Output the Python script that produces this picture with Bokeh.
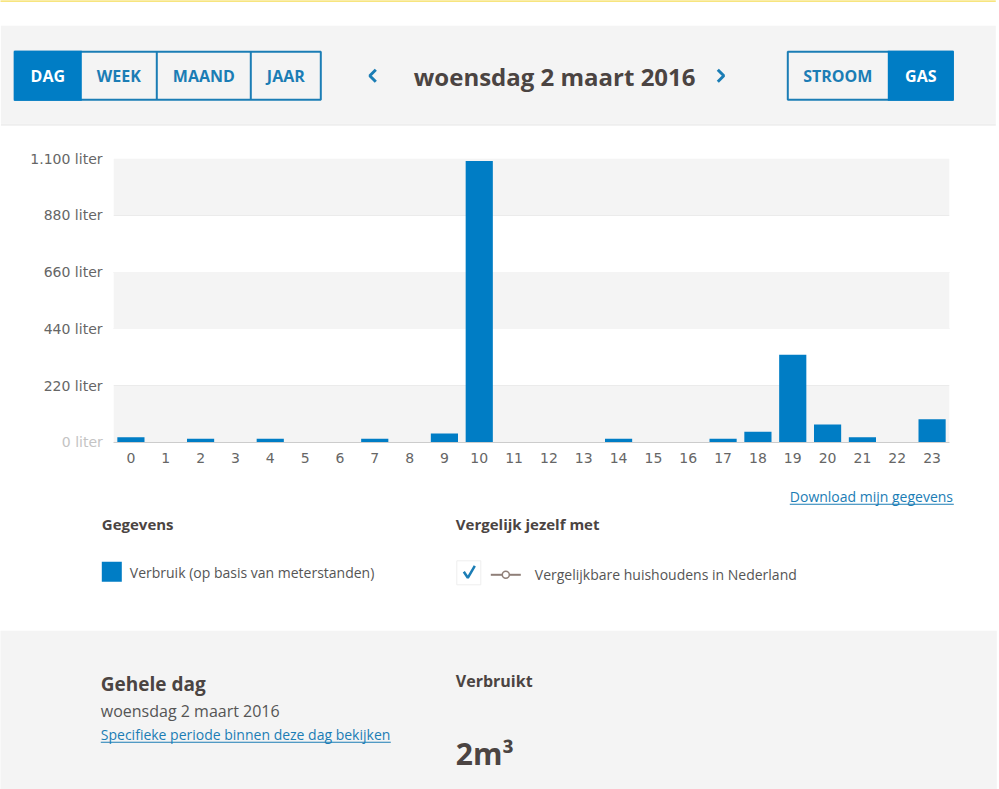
from bokeh.core.properties import value
from bokeh.embed import file_html
from bokeh.layouts import column
from bokeh.models import BoxAnnotation, FactorRange, FixedTicker, Range1d
from bokeh.plotting import figure
from bokeh.resources import INLINE

HOURS = [str(h) for h in range(24)]
VERBRUIK = [20, 0, 15, 0, 15, 0, 0, 15, 0, 35, 1090, 0, 0, 0, 15, 0, 0, 15, 42, 340, 70, 20, 0, 90]
Y_TICKS = [220, 440, 660, 880, 1100]
Y_LABELS = ['220 liter', '440 liter', '660 liter', '880 liter', '1.100 liter']

BLUE = '#007dc5'
BORDER = '#1b7db5'
DARK = '#4b4442'
GREY = '#f4f4f4'
AT_ORIGIN = {"position": "absolute", "left": "0px", "top": "0px"}

# the page around the chart: one figure whose frame is the whole window, in pixels
page = figure(width=999, height=789, output_backend="svg", toolbar_location=None,
              x_range=Range1d(0.7, 999.7), y_range=Range1d(789.7, 0.7), min_border=0,
              x_axis_location=None, y_axis_location=None, styles=AT_ORIGIN,
              frame_align=False)
page.grid.visible = False
page.outline_line_color = None


def box(left, right, top, bottom, fill, line=None, width=0):
    page.quad(left=left, right=right, top=top, bottom=bottom, fill_color=fill,
              line_color=line, line_width=width)


def stroke(xs, ys, color, width):
    page.line(xs, ys, line_color=color, line_width=width)


def text(x, y, s, size, color=DARK, bold=False, font='Open Sans', align='left'):
    page.text(x=[x], y=[y], text=[s], text_font=value(font), text_font_size=value(size),
              text_color=color, text_font_style='bold' if bold else 'normal',
              text_align=align, text_baseline='middle')


# page blocks
box(0, 996, 0, 2, '#f5dc55')
box(1, 996, 26, 124, GREY)
box(1, 996, 124, 126, '#eeeeee')
box(0, 997, 631, 790, GREY)

# period buttons
box(15, 321, 52, 100, GREY, BORDER, 2)
box(14, 82, 51, 101, BLUE)
box(156, 158, 52, 100, BORDER)
box(250, 252, 52, 100, BORDER)
text(48, 76, 'DAG', '16px', 'white', True, align='center')
text(119, 76, 'WEEK', '16px', BORDER, True, align='center')
text(204, 76, 'MAAND', '16px', BORDER, True, align='center')
text(286, 76, 'JAAR', '16px', BORDER, True, align='center')

# date navigation
stroke([376, 370, 376], [70, 76, 82], BORDER, 3)
stroke([718, 724, 718], [70, 76, 82], BORDER, 3)
text(414, 77, 'woensdag 2 maart 2016', '24px', DARK, True)

# gas / stroom buttons
box(788, 953, 52, 100, GREY, BORDER, 2)
box(888, 954, 51, 101, BLUE)
text(838, 76, 'STROOM', '16px', BORDER, True, align='center')
text(921, 76, 'GAS', '16px', 'white', True, align='center')

text(103, 442, '0 liter', '14px', '#c4c4c4', font='DejaVu Sans', align='right')

# below the chart
text(790, 497, 'Download mijn gegevens', '14px', BORDER)
box(790, 954, 504, 505, BORDER)

text(102, 524, 'Gegevens', '15px', DARK, True)
box(102, 122, 562, 582, BLUE)
text(130, 573, 'Verbruik (op basis van meterstanden)', '14px', '#555555')

text(456, 524, 'Vergelijk jezelf met', '15px', DARK, True)
box(457, 481, 561, 585, 'white', '#eeeeee', 1)
stroke([464, 468, 475], [572, 578, 566], BORDER, 2.5)
stroke([491, 521], [575, 575], '#8f7f78', 2)
page.scatter([506], [575], size=7, fill_color='white', line_color='#8f7f78', line_width=1.5)
text(535, 575, 'Vergelijkbare huishoudens in Nederland', '14px', '#555555')

# totals panel
text(101, 684, 'Gehele dag', '19px', DARK, True)
text(101, 711, 'woensdag 2 maart 2016', '16px', '#555555')
text(101, 735, 'Specifieke periode binnen deze dag bekijken', '14px', BORDER)
box(101, 391, 742, 743, BORDER)
text(456, 681, 'Verbruikt', '16px', DARK, True)
text(456, 754, '2m³', '30px', DARK, True)

# the chart itself, laid over the page figure
p = figure(width=999, height=789, output_backend="svg", toolbar_location=None,
           x_range=FactorRange(factors=HOURS, factor_padding=0, range_padding=0),
           y_range=Range1d(0, 1100),
           min_border_left=113, min_border_right=50, min_border_top=158, min_border_bottom=347,
           styles=AT_ORIGIN, frame_align=False)
p.outline_line_color = None
p.background_fill_color = None
p.border_fill_color = None

p.yaxis.ticker = FixedTicker(ticks=Y_TICKS)
p.yaxis.major_label_overrides = dict(zip(Y_TICKS, Y_LABELS))
p.yaxis.axis_line_color = None
p.yaxis.major_tick_line_color = None
p.yaxis.minor_tick_line_color = None
p.yaxis.major_label_text_font = 'DejaVu Sans'
p.yaxis.major_label_text_font_size = '14px'
p.yaxis.major_label_text_color = '#666666'
p.yaxis.major_label_standoff = 5

p.xaxis.axis_line_color = '#cccccc'
p.xaxis.major_tick_line_color = None
p.xaxis.minor_tick_line_color = None
p.xaxis.major_label_text_font = 'DejaVu Sans'
p.xaxis.major_label_text_font_size = '14px'
p.xaxis.major_label_text_color = '#666666'
p.xaxis.major_label_standoff = 4
p.xgrid.visible = False

p.ygrid.ticker = FixedTicker(ticks=Y_TICKS)
p.ygrid.grid_line_color = '#e8e8e8'
for low, high in [(0, 220), (440, 660), (880, 1100)]:
    p.add_layout(BoxAnnotation(bottom=low, top=high, fill_color=GREY, fill_alpha=1,
                               line_color=None, level='underlay'))

p.vbar(x=HOURS, top=VERBRUIK, width=0.78, fill_color=BLUE, line_color=None)

layout = column(page, p, width=999, height=789)
open("out.html", "w").write(file_html(layout, INLINE))
